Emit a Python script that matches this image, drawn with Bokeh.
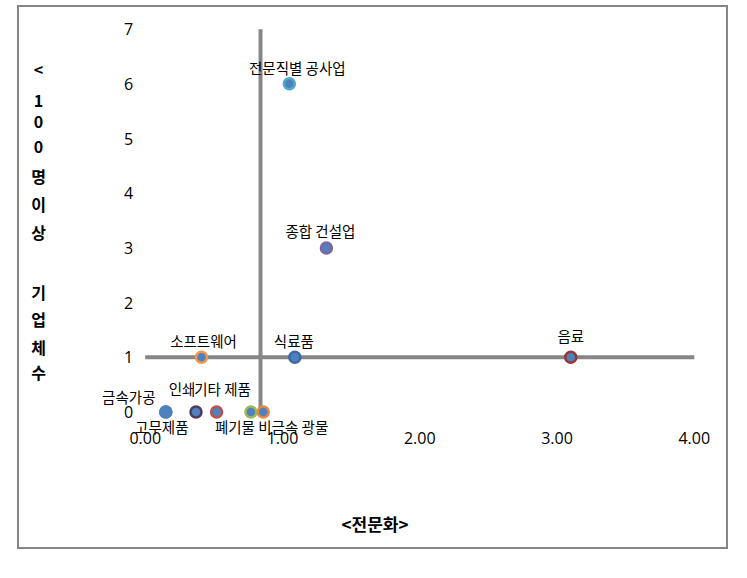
from bokeh.plotting import figure
from bokeh.models import (Range1d, LabelSet, ColumnDataSource, FixedTicker,
                          LinearAxis, PrintfTickFormatter)
from bokeh.core.properties import value
from bokeh.embed import file_html
from bokeh.resources import INLINE

# ---------------- data ----------------
industries = ["전문직별 공사업", "종합 건설업", "식료품", "음료", "소프트웨어",
              "금속가공", "고무제품", "인쇄", "기타 제품", "폐기물", "비금속 광물"]
specialization = [1.05, 1.32, 1.09, 3.10, 0.41, 0.15, 0.15, 0.37, 0.52, 0.77, 0.86]
firms_100plus = [6, 3, 1, 1, 1, 0, 0, 0, 0, 0, 0]
x_cross = 0.84
y_cross = 1
x_ticks = [0, 1, 2, 3, 4]
y_ticks = [0, 1, 2, 3, 4, 5, 6, 7]
x_title = "<전문화>"
y_title_chars = ["<", "1", "0", "0", "명", "이", "상", "", "기", "업", "체", "수"]

# ---------------- style / layout ----------------
outline = ["#4BACC6", "#8064A2", "#3A6AA8", "#953735", "#F79646",
           "#4F81BD", "#4F81BD", "#4D3B62", "#C0504D", "#9BBB59", "#E8883A"]
lab_dx = [8, -6, -1, 0, 2, -37, -4, -14, 6, -16, 30]
lab_dy = [16, 17, 17, 22, 17, 15, -15, 23, 23, -15, -15]
GREY = "#868686"
KR = "Noto Sans CJK KR"

CANVAS_W, CANVAS_H = 707, 540          # drawing area inside the 2px border
X_LO_PX, X_HI_PX = 125, 671            # canvas px of first / last x tick
Y_LO_PX, Y_HI_PX = 401.5, 21.5         # canvas px (from top) of first / last y tick
x_lo, x_hi = x_ticks[0], x_ticks[-1]
y_lo, y_hi = y_ticks[0], y_ticks[-1]
sxu = (X_HI_PX - X_LO_PX) / (x_hi - x_lo)
syu = (Y_LO_PX - Y_HI_PX) / (y_hi - y_lo)
x_start = x_lo - X_LO_PX / sxu
x_end = x_hi + (CANVAS_W - X_HI_PX) / sxu
y_end = y_hi + Y_HI_PX / syu
y_start = y_lo - (CANVAS_H - Y_LO_PX) / syu

p = figure(width=CANVAS_W + 4, height=CANVAS_H + 4,
           x_range=Range1d(x_start, x_end), y_range=Range1d(y_start, y_end),
           output_backend="svg", toolbar_location=None,
           x_axis_type=None, y_axis_type=None,
           min_border=0)
p.outline_line_color = None
p.background_fill_color = "white"
p.border_fill_color = "white"
p.margin = (5, 0, 0, 17)
p.styles = {"border": "2px solid #868686"}

xaxis = LinearAxis(ticker=FixedTicker(ticks=x_ticks), formatter=PrintfTickFormatter(format="%.2f"),
                   fixed_location=y_lo)
yaxis = LinearAxis(ticker=FixedTicker(ticks=y_ticks), fixed_location=x_lo)
for ax in (xaxis, yaxis):
    ax.axis_line_color = None
    ax.major_tick_line_color = None
    ax.minor_tick_line_color = None
    ax.major_label_text_font = "Open Sans"
    ax.major_label_text_font_size = "16px"
    ax.major_label_text_color = "black"
xaxis.major_label_standoff = 14
yaxis.major_label_standoff = 6
xaxis.axis_label = x_title
xaxis.axis_label_standoff = 64
xaxis.axis_label_text_font = KR
xaxis.axis_label_text_font_size = "17px"
xaxis.axis_label_text_font_style = "bold"
xaxis.axis_label_text_color = "black"
p.add_layout(xaxis, "below")
p.add_layout(yaxis, "left")

# crossing axis lines
p.segment(x0=[x_cross], y0=[y_lo], x1=[x_cross], y1=[y_hi], line_color=GREY, line_width=4)
p.segment(x0=[x_lo], y0=[y_cross], x1=[x_hi], y1=[y_cross], line_color=GREY, line_width=4)

src = ColumnDataSource(dict(x=specialization, y=firms_100plus, name=industries,
                            outline=outline, dx=lab_dx, dy=lab_dy))
p.scatter("x", "y", source=src, size=11, fill_color="#4F81BD", line_color="outline",
          line_width=2.5)

p.add_layout(LabelSet(x="x", y="y", text="name", x_offset="dx", y_offset="dy", source=src,
                      text_align="center", text_baseline="middle",
                      text_font=value(KR), text_font_size="14.5px", text_color="black"))

# vertical stacked y title
ty = [70, 102, 123, 148, 177, 205, 233, 263, 293, 320, 348, 373]   # page px
n = len(y_title_chars)
ysrc = ColumnDataSource(dict(x=[x_start] * n, y=[y_end] * n, t=y_title_chars,
                             oy=[-(t - 9) for t in ty]))
p.add_layout(LabelSet(x="x", y="y", text="t", source=ysrc, x_offset=19, y_offset="oy",
                      text_align="center", text_baseline="middle",
                      text_font=value(KR), text_font_size="16px", text_font_style="bold",
                      text_color="black"))

open("out.html", "w").write(file_html(p, INLINE))
